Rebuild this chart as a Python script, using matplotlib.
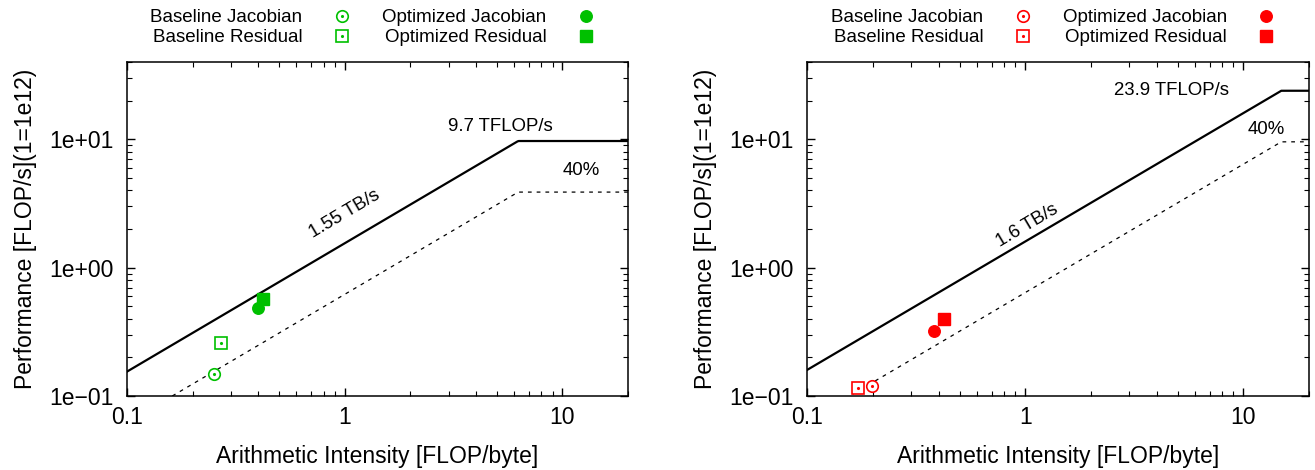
import matplotlib
matplotlib.use('Agg')
import matplotlib.pyplot as plt
from matplotlib.lines import Line2D
from matplotlib.legend_handler import HandlerTuple
from matplotlib.ticker import FixedLocator, LogLocator, NullFormatter
import numpy as np

plt.rcParams['font.family'] = ['Liberation Sans', 'DejaVu Sans']

# Données (AI en FLOP/byte, perf en TFLOP/s)
labels = ['Baseline Jacobian', 'Baseline Residual', 'Optimized Jacobian', 'Optimized Residual']

left_ai = [0.25, 0.27, 0.40, 0.42]
left_perf = [0.148, 0.259, 0.484, 0.565]
left_bw = 1.55     # TB/s
left_peak = 9.7    # TFLOP/s

right_ai = [0.199, 0.171, 0.381, 0.423]
right_perf = [0.120, 0.115, 0.321, 0.395]
right_bw = 1.6
right_peak = 23.9

frac = 0.4  # ligne des 40%

xticks = [0.1, 1, 10]
xticklabels = ['0.1', '1', '10']
yticks = [0.1, 1, 10]
yticklabels = ['1e\u221201', '1e+00', '1e+01']


def roofline(ax, ai, perf, bw, peak, color, bw_pos, peak_pos, frac_pos):
    x = np.logspace(-1, np.log10(20), 400)
    ax.plot(x, np.minimum(bw * x, peak), color='black', lw=1.6, zorder=2)
    ax.plot(x, np.minimum(frac * bw * x, frac * peak), color='black', lw=0.9,
            dashes=(3, 4), zorder=2)

    # Points : marqueurs creux avec un point au centre, ou pleins
    markers = ['o', 's', 'o', 's']
    handles = []
    for i in range(4):
        if i < 2:
            ax.plot(ai[i], perf[i], marker=markers[i], ms=8.3, mfc='white', mec=color,
                    mew=1.2, ls='none', zorder=3)
            ax.plot(ai[i], perf[i], marker='.', ms=2.5, color=color, ls='none', zorder=4)
            h = (Line2D([], [], marker=markers[i], ms=8.3, mfc='white', mec=color, mew=1.2, ls='none'),
                 Line2D([], [], marker='.', ms=2.5, color=color, ls='none'))
        else:
            ax.plot(ai[i], perf[i], marker=markers[i], ms=8.3, color=color, ls='none', zorder=3)
            h = Line2D([], [], marker=markers[i], ms=8.3, color=color, ls='none')
        handles.append(h)

    ax.set_xscale('log')
    ax.set_yscale('log')
    ax.set_xlim(0.1, 20)
    ax.set_ylim(0.1, 40)

    ax.xaxis.set_major_locator(FixedLocator(xticks))
    ax.set_xticklabels(xticklabels)
    ax.yaxis.set_major_locator(FixedLocator(yticks))
    ax.set_yticklabels(yticklabels)
    ax.xaxis.set_minor_locator(LogLocator(base=10, subs=np.arange(2, 10)))
    ax.yaxis.set_minor_locator(LogLocator(base=10, subs=np.arange(2, 10)))
    ax.xaxis.set_minor_formatter(NullFormatter())
    ax.yaxis.set_minor_formatter(NullFormatter())
    ax.tick_params(which='both', direction='in', top=True, right=True, labelsize=16.5)
    ax.tick_params(which='major', length=6, width=1)
    ax.tick_params(which='minor', length=3.5, width=0.8)
    ax.tick_params(axis='x', pad=7)
    ax.tick_params(axis='y', pad=9.5)
    for s in ax.spines.values():
        s.set_linewidth(1.1)

    ax.set_xlabel('Arithmetic Intensity [FLOP/byte]', fontsize=16.5, labelpad=12)
    ax.set_ylabel('Performance [FLOP/s](1=1e12)', fontsize=16.5, labelpad=9)

    # Annotations du roofline
    ang = np.degrees(np.arctan(129.0 / 217.5))
    ax.text(bw_pos[0], bw_pos[1], f'{bw:g} TB/s', fontsize=13.4, rotation=ang,
            rotation_mode='anchor', ha='center', va='center')
    ax.text(peak_pos[0], peak_pos[1], f'{peak:g} TFLOP/s', fontsize=13.4, ha='center', va='center')
    ax.text(frac_pos[0], frac_pos[1], '40%', fontsize=13.4, ha='center', va='center')

    ax.legend(handles, labels, ncol=2, markerfirst=False, frameon=False, loc='lower center',
              bbox_to_anchor=(0.5, 1.025), fontsize=13.5, handlelength=2.0, handletextpad=1.1,
              columnspacing=1.15, labelspacing=0.15, borderaxespad=0.0,
              handler_map={tuple: HandlerTuple(ndivide=1)})


fig = plt.figure(figsize=(13.15, 4.7), dpi=100)
ax1 = fig.add_axes([0.0966, 0.1574, 0.3810, 0.7106])
ax2 = fig.add_axes([0.6139, 0.1574, 0.3815, 0.7106])

roofline(ax1, left_ai, left_perf, left_bw, left_peak, '#00c000',
         (1.0, 2.6), (5.2, 12.6), (12.2, 5.75))
roofline(ax2, right_ai, right_perf, right_bw, right_peak, '#ff0000',
         (1.02, 2.12), (4.7, 23.9), (12.7, 11.9))

plt.savefig('out.png', dpi=100)
plt.close()
